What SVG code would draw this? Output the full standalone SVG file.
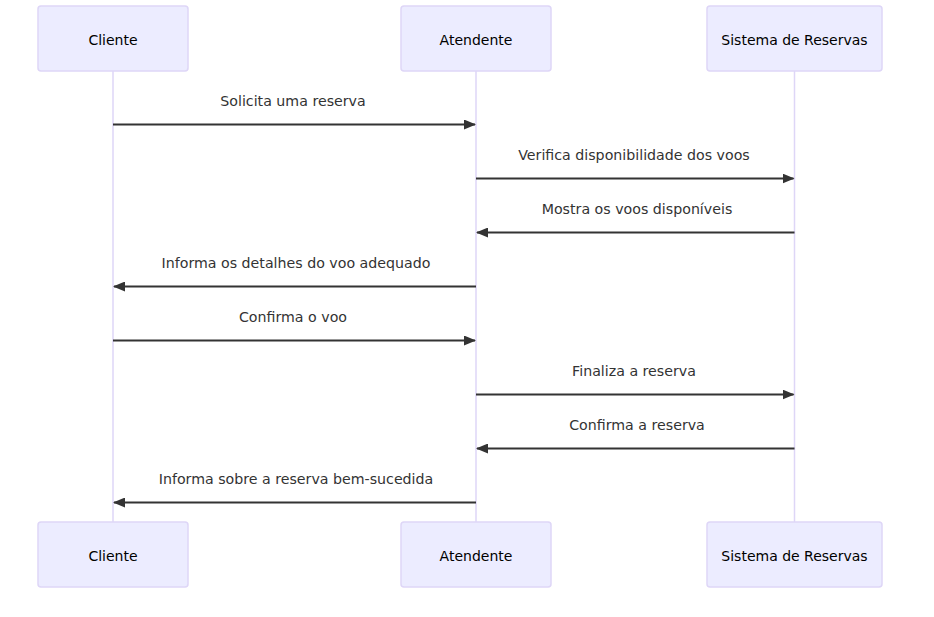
<svg xmlns="http://www.w3.org/2000/svg" width="934" height="617" viewBox="0 0 934 617">
<defs>
<marker id="ah" viewBox="0 0 12 10" refX="11" refY="5" markerUnits="userSpaceOnUse" markerWidth="12" markerHeight="10" orient="auto">
<path d="M0,0 L12,5 L0,10 z" fill="#333"/>
</marker>
</defs>
<style>
.actor{fill:#ECECFF;stroke:#DED6F7;stroke-width:1.5}
.life{stroke:#DED6F7;stroke-width:1.5}
.atxt{font-family:"DejaVu Sans",sans-serif;font-size:14px;fill:#000;text-anchor:middle;dominant-baseline:central}
.msg{stroke:#333;stroke-width:2;fill:none;marker-end:url(#ah)}
.mtxt{font-family:"DejaVu Sans",sans-serif;font-size:14.2px;fill:#333;text-anchor:middle;dominant-baseline:central}
</style>
<rect width="934" height="617" fill="#fff"/>
<g id="lifelines">
<line class="life" x1="113" y1="71" x2="113" y2="522"/>
<line class="life" x1="476" y1="71" x2="476" y2="522"/>
<line class="life" x1="794.5" y1="71" x2="794.5" y2="522"/>
</g>
<g id="cliente-top"><rect class="actor" x="38" y="6" width="150" height="65" rx="3"/><text class="atxt" x="113" y="39.5">Cliente</text></g>
<g id="atendente-top"><rect class="actor" x="401" y="6" width="150" height="65" rx="3"/><text class="atxt" x="476" y="39.5">Atendente</text></g>
<g id="sistema-top"><rect class="actor" x="707" y="6" width="175" height="65" rx="3"/><text class="atxt" x="794.5" y="39.5">Sistema de Reservas</text></g>
<g id="cliente-bottom"><rect class="actor" x="38" y="522" width="150" height="65" rx="3"/><text class="atxt" x="113" y="555.5">Cliente</text></g>
<g id="atendente-bottom"><rect class="actor" x="401" y="522" width="150" height="65" rx="3"/><text class="atxt" x="476" y="555.5">Atendente</text></g>
<g id="sistema-bottom"><rect class="actor" x="707" y="522" width="175" height="65" rx="3"/><text class="atxt" x="794.5" y="555.5">Sistema de Reservas</text></g>
<g id="messages">
<line class="msg" x1="113" y1="124.5" x2="475" y2="124.5"/>
<text class="mtxt" x="293" y="100.5">Solicita uma reserva</text>
<line class="msg" x1="476" y1="178.5" x2="793.5" y2="178.5"/>
<text class="mtxt" x="634" y="154.5">Verifica disponibilidade dos voos</text>
<line class="msg" x1="794.5" y1="232.5" x2="477" y2="232.5"/>
<text class="mtxt" x="637" y="208.5">Mostra os voos disponíveis</text>
<line class="msg" x1="476" y1="286.5" x2="114" y2="286.5"/>
<text class="mtxt" x="296" y="262.5">Informa os detalhes do voo adequado</text>
<line class="msg" x1="113" y1="340.5" x2="475" y2="340.5"/>
<text class="mtxt" x="293" y="316.5">Confirma o voo</text>
<line class="msg" x1="476" y1="394.5" x2="793.5" y2="394.5"/>
<text class="mtxt" x="634" y="370.5">Finaliza a reserva</text>
<line class="msg" x1="794.5" y1="448.5" x2="477" y2="448.5"/>
<text class="mtxt" x="637" y="424.5">Confirma a reserva</text>
<line class="msg" x1="476" y1="502.5" x2="114" y2="502.5"/>
<text class="mtxt" x="296" y="478.5">Informa sobre a reserva bem-sucedida</text>
</g>
</svg>
